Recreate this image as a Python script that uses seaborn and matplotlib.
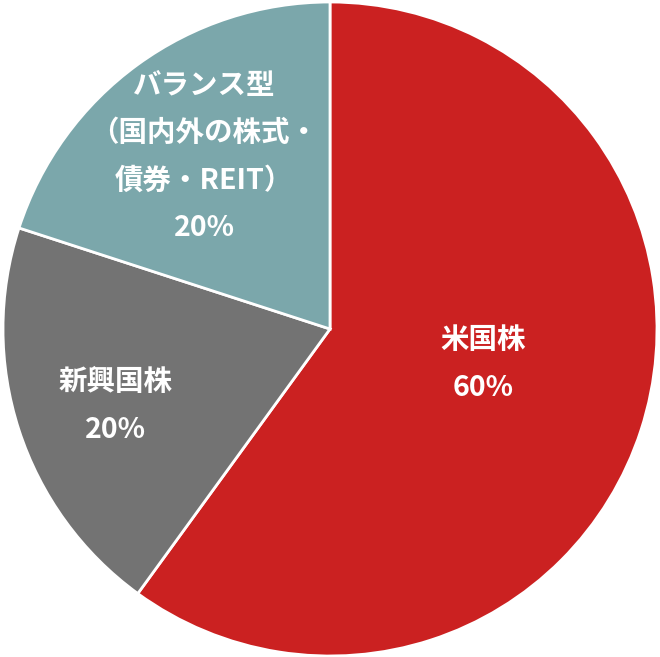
import matplotlib
matplotlib.use("Agg")
import matplotlib.pyplot as plt
import seaborn as sns

categories = ["米国株", "新興国株", "バランス型\n（国内外の株式・\n債券・REIT）"]
values = [60, 20, 20]
colors = ["#CB2121", "#737373", "#7BA7AB"]

sns.set_theme(style="white")
plt.rcParams['font.family'] = ['Noto Sans CJK JP', 'DejaVu Sans']

fig = plt.figure(figsize=(6.6, 6.57), dpi=100)
ax = fig.add_axes([0, 0, 1, 1])
ax.pie(values, colors=colors, startangle=90, counterclock=False, radius=1,
       wedgeprops=dict(edgecolor="white", linewidth=2))
ax.set_xlim(-330/327, 330/327)
ax.set_ylim(-328/327, 329/327)
ax.axis("off")

label_pos = [(0.468, -0.107), (-0.655, -0.235), (-0.385, 0.526)]
for cat, v, (x, y) in zip(categories, values, label_pos):
    ax.text(x, y, f"{cat}\n{v}%", ha="center", va="center", color="white",
            fontsize=20.5, fontweight="bold", linespacing=1.88)

fig.savefig("out.png", dpi=100)
